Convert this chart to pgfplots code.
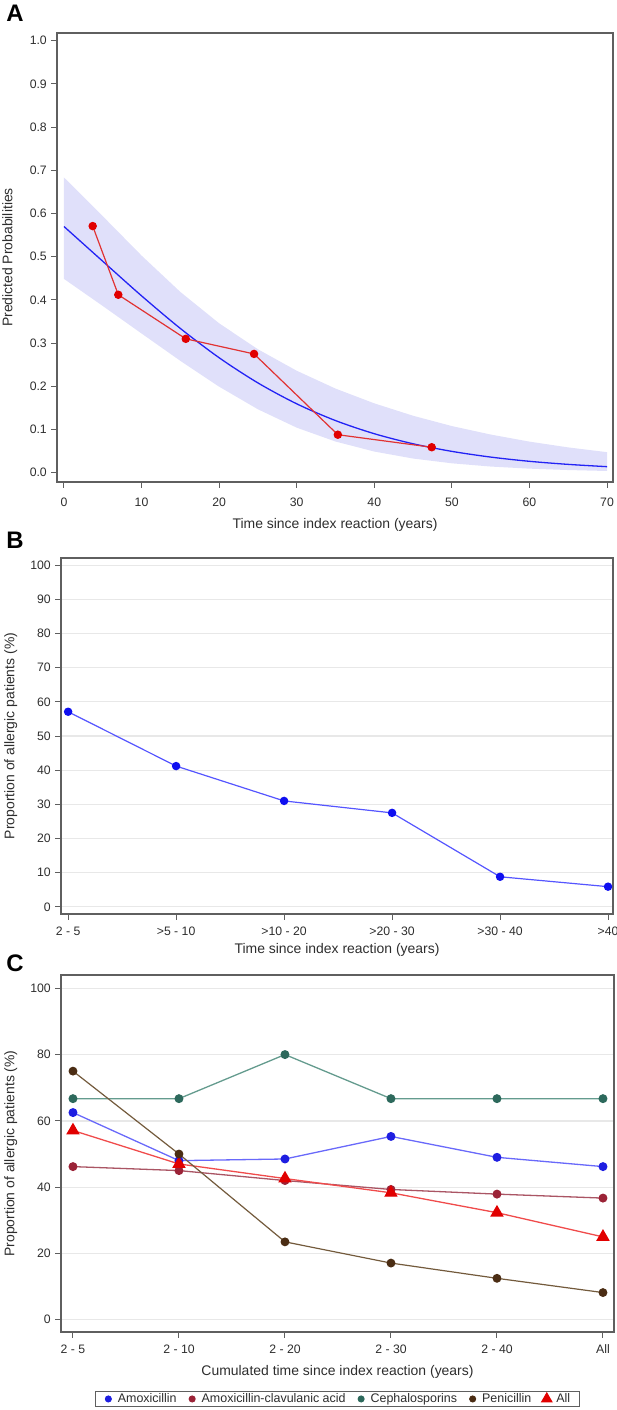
\documentclass[border=0pt]{standalone}
\usepackage{fontspec}
\setmainfont{Liberation Sans}
\usepackage{pgfplots}
\usepackage{pgfplotstable}
\pgfplotsset{compat=1.18}

\definecolor{txt}{RGB}{45,45,45}
\definecolor{framec}{RGB}{95,95,95}
\definecolor{gridc}{RGB}{232,232,232}
\definecolor{bandc}{RGB}{224,224,250}
\definecolor{fitblue}{RGB}{35,35,245}
\definecolor{obsred}{RGB}{225,0,0}
\definecolor{obsredline}{RGB}{225,50,50}
\definecolor{bmark}{RGB}{15,15,240}
\definecolor{bline}{RGB}{85,85,255}
\definecolor{amoxm}{RGB}{30,30,225}
\definecolor{amoxl}{RGB}{105,105,250}
\definecolor{clavm}{RGB}{155,35,55}
\definecolor{clavl}{RGB}{170,85,100}
\definecolor{cephm}{RGB}{45,105,92}
\definecolor{cephl}{RGB}{100,155,142}
\definecolor{penm}{RGB}{75,45,20}
\definecolor{penl}{RGB}{115,90,60}
\definecolor{allm}{RGB}{225,0,0}
\definecolor{alll}{RGB}{240,75,75}

% confidence band outline: upper limit 0->70, then lower limit 70->0
\pgfplotstableread{
x    y
0    0.6835
5    0.5939
10   0.5027
15   0.4185
20   0.3459
25   0.2858
30   0.2361
35   0.1948
40   0.1606
45   0.1319
50   0.1080
55   0.0884
60   0.0720
65   0.0586
70   0.0476
70   0.0040
65   0.0062
60   0.0094
55   0.0143
50   0.0218
45   0.0328
40   0.0490
35   0.0722
30   0.1043
25   0.1468
20   0.1992
15   0.2590
10   0.3223
5    0.3860
0    0.4487
}\bandA

\pgfplotstableread{
x    fit
0    0.5700
5    0.4895
10   0.4095
15   0.3340
20   0.2662
25   0.2079
30   0.1595
35   0.1207
40   0.0903
45   0.0670
50   0.0494
55   0.0362
60   0.0264
65   0.0193
70   0.0140
}\fitA

\pgfplotstableread{
x    p
3.7  0.571
7.0  0.412
15.7 0.310
24.5 0.275
35.3 0.088
47.4 0.059
}\obsA

\pgfplotstableread{
x  p
0  57.1
1  41.2
2  31.0
3  27.5
4  8.8
5  5.9
}\dataB

\pgfplotstableread{
x  amox clav ceph pen  all
0  62.5 46.2 66.7 75.0 57.1
1  48.0 45.0 66.7 50.0 47.0
2  48.5 42.0 80.0 23.5 42.6
3  55.3 39.3 66.7 17.1 38.3
4  49.0 37.9 66.7 12.5 32.3
5  46.2 36.7 66.7 8.2  25.0
}\dataC

\pgfplotsset{
  base/.style={
    scale only axis,
    axis line style={framec, line width=1.1bp},
    tick align=outside,
    xtick pos=bottom, ytick pos=left,
    major tick length=5.5bp,
    every tick/.style={framec, line width=1bp},
    tick label style={font=\fontsize{12.3}{14}\selectfont, text=txt, inner sep=0pt},
    /pgf/number format/assume math mode=true,
    yticklabel style={anchor=east, xshift=-4.5bp},
    xticklabel style={anchor=center, yshift=-12bp},
    label style={font=\fontsize{14}{16}\selectfont, text=txt, inner sep=0pt},
  },
}

\begin{document}
\begin{tikzpicture}
\path[use as bounding box] (0,0) rectangle (617bp,-1410bp);

% Panel labels
\node[font=\fontsize{24}{24}\selectfont\bfseries, text=black] at (15bp,-13.5bp) {A};
\node[font=\fontsize{24}{24}\selectfont\bfseries, text=black] at (15bp,-540bp) {B};
\node[font=\fontsize{24}{24}\selectfont\bfseries, text=black] at (15bp,-963bp) {C};

% ---------------- Panel A ----------------
\begin{axis}[base,
  at={(57bp,-482bp)}, anchor=south west,
  width=556bp, height=449bp,
  xmin=-0.9, xmax=70.77, ymin=-0.0215, ymax=1.018,
  xtick={0,10,...,70},
  ytick={0,0.1,...,1.0},
  yticklabel style={/pgf/number format/.cd, fixed, fixed zerofill, precision=1},
  xticklabel style={yshift=-3bp},
  xlabel={Time since index reaction (years)},
  ylabel={Predicted Probabilities},
  xlabel style={at={(axis description cs:0.5,0)}, anchor=center, yshift=-43bp},
  ylabel style={at={(axis description cs:0,0.5)}, anchor=north, yshift=55bp},
]
\addplot[fill=bandc, draw=none] table[x=x, y=y] {\bandA};
\addplot[fitblue, line width=1.3bp, smooth] table[x=x, y=fit] {\fitA};
\addplot[obsredline, line width=1.2bp, mark=*, mark size=3.6bp,
  mark options={fill=obsred, draw=obsred}] table[x=x, y=p] {\obsA};
\end{axis}

% ---------------- Panel B ----------------
\begin{axis}[base,
  at={(61bp,-914bp)}, anchor=south west,
  width=552bp, height=356bp,
  xmin=-0.066, xmax=5.046, ymin=-2.1, ymax=102.1,
  xtick={0,...,5},
  xticklabels={2 - 5, >5 - 10, >10 - 20, >20 - 30, >30 - 40, >40},
  ytick={0,10,...,100},
  ymajorgrids, grid style={gridc, line width=1.3bp},
  xlabel={Time since index reaction (years)},
  ylabel={Proportion of allergic patients (\%)},
  xlabel style={at={(axis description cs:0.5,0)}, anchor=center, yshift=-36bp},
  ylabel style={at={(axis description cs:0,0.5)}, anchor=north, yshift=57bp},
]
\addplot[bline, line width=1.2bp, mark=*, mark size=3.6bp,
  mark options={fill=bmark, draw=bmark}] table[x=x, y=p] {\dataB};
\end{axis}

% ---------------- Panel C ----------------
\begin{axis}[base,
  at={(61bp,-1332bp)}, anchor=south west,
  width=553bp, height=357bp,
  xmin=-0.113, xmax=5.104, ymin=-3.7, ymax=104,
  xtick={0,...,5},
  xticklabels={2 - 5, 2 - 10, 2 - 20, 2 - 30, 2 - 40, All},
  ytick={0,20,...,100},
  ymajorgrids, grid style={gridc, line width=1.3bp},
  xlabel={Cumulated time since index reaction (years)},
  ylabel={Proportion of allergic patients (\%)},
  xlabel style={at={(axis description cs:0.5,0)}, anchor=center, yshift=-40bp},
  ylabel style={at={(axis description cs:0,0.5)}, anchor=north, yshift=57bp},
  legend columns=5,
  legend style={at={(axis description cs:0.5,-0.1644)}, anchor=north,
    draw=framec, line width=1bp, font=\fontsize{12.5}{14}\selectfont, text=txt,
    inner xsep=6bp, inner ysep=1.5bp,
    nodes={inner xsep=3bp, inner ysep=1bp},
    /tikz/every even column/.append style={column sep=6bp}},
  legend image code/.code={\path[draw=none, fill=none] (0bp,-3bp) rectangle (13bp,3bp); \draw[#1] plot coordinates {(6.5bp,0bp)};},
]
\addplot[forget plot, cephl, line width=1.3bp, mark=*, mark size=3.8bp,
  mark options={fill=cephm, draw=cephm}] table[x=x, y=ceph] {\dataC};
\addplot[forget plot, amoxl, line width=1.3bp, mark=*, mark size=3.8bp,
  mark options={fill=amoxm, draw=amoxm}] table[x=x, y=amox] {\dataC};
\addplot[forget plot, clavl, line width=1.3bp, mark=*, mark size=3.8bp,
  mark options={fill=clavm, draw=clavm}] table[x=x, y=clav] {\dataC};
\addplot[forget plot, alll, line width=1.3bp, mark=triangle*, mark size=6.5bp,
  mark options={fill=allm, draw=allm}] table[x=x, y=all] {\dataC};
\addplot[forget plot, penl, line width=1.2bp, mark=*, mark size=3.8bp,
  mark options={fill=penm, draw=penm}] table[x=x, y=pen] {\dataC};

\addlegendimage{only marks, mark=*, mark size=3bp, amoxm}
\addlegendentry{Amoxicillin}
\addlegendimage{only marks, mark=*, mark size=3bp, clavm}
\addlegendentry{Amoxicillin-clavulanic acid}
\addlegendimage{only marks, mark=*, mark size=3bp, cephm}
\addlegendentry{Cephalosporins}
\addlegendimage{only marks, mark=*, mark size=3bp, penm}
\addlegendentry{Penicillin}
\addlegendimage{only marks, mark=triangle*, mark size=6bp, allm}
\addlegendentry{All}
\end{axis}
\end{tikzpicture}
\end{document}
